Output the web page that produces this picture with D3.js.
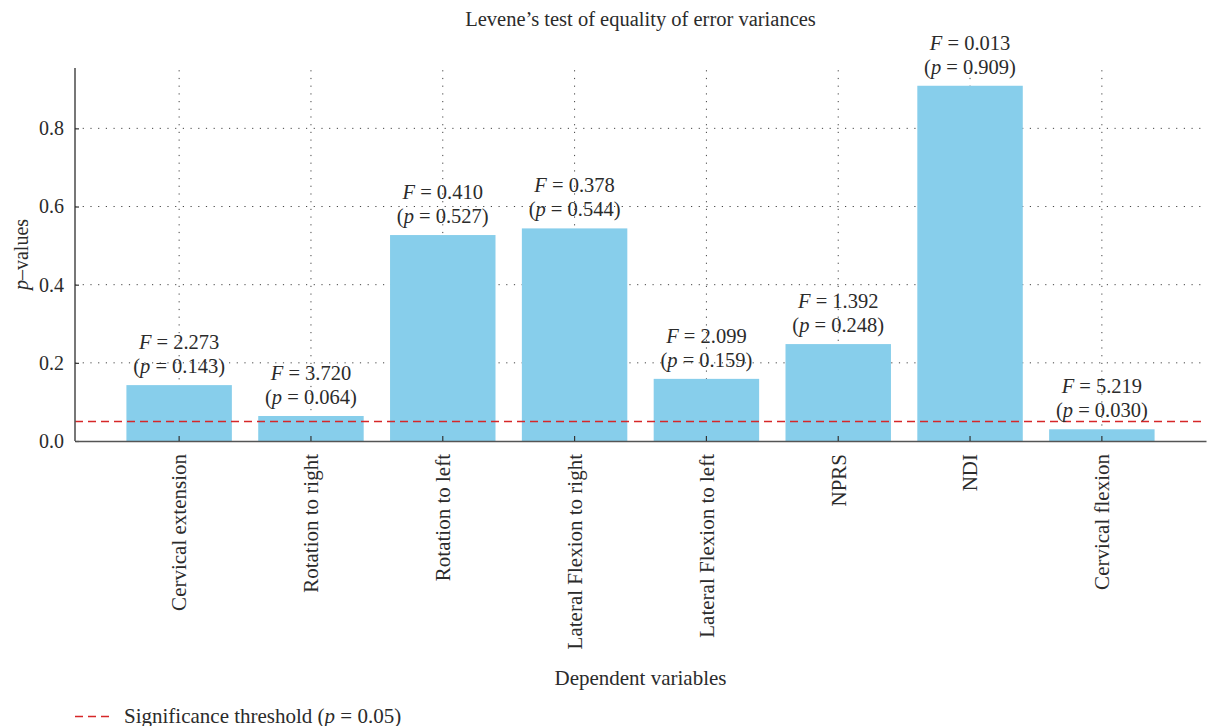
<!DOCTYPE html>
<html>
<head>
<meta charset="utf-8">
<script src="https://cdn.jsdelivr.net/npm/d3@7/dist/d3.min.js"></script>
<style>
  html, body { margin: 0; padding: 0; background: #fff; }
  svg { display: block; font-family: "Liberation Serif", "DejaVu Serif", serif; }
</style>
</head>
<body>
<svg id="chart" width="1208" height="726"></svg>
<script>
// Levene's test results per dependent variable
const categories = [
  "Cervical extension", "Rotation to right", "Rotation to left",
  "Lateral Flexion to right", "Lateral Flexion to left", "NPRS", "NDI",
  "Cervical flexion"
];
const fValues = [2.273, 3.720, 0.410, 0.378, 2.099, 1.392, 0.013, 5.219];
const pValues = [0.143, 0.064, 0.527, 0.544, 0.159, 0.248, 0.909, 0.030];
const yTicks = [0.0, 0.2, 0.4, 0.6, 0.8];
const threshold = 0.05;

const svg = d3.select("#chart");
const plotL = 75, plotR = 1206, plotT = 68, plotB = 441;
const ink = "#2b2b2b";
const red = "#d62728";

const x = d3.scaleBand()
  .domain(categories)
  .range([plotL, plotR])
  .paddingInner(0.2)
  .paddingOuter(0.39);

const y = d3.scaleLinear()
  .domain([0, d3.max(pValues) * 1.05])
  .range([plotB, plotT]);

const cx = d => x(d) + x.bandwidth() / 2;

// dotted grid
const grid = svg.append("g").attr("stroke", "#444").attr("stroke-width", 1)
  .attr("stroke-dasharray", "1.2,6.5");
grid.selectAll("line.h").data(yTicks.filter(d => d > 0)).join("line")
  .attr("class", "h")
  .attr("x1", plotL).attr("x2", plotR)
  .attr("y1", d => y(d)).attr("y2", d => y(d));
grid.selectAll("line.v").data(categories).join("line")
  .attr("class", "v")
  .attr("x1", cx).attr("x2", cx)
  .attr("y1", plotB).attr("y2", plotT);

// bars
svg.append("g").selectAll("rect").data(categories).join("rect")
  .attr("x", d => x(d))
  .attr("width", x.bandwidth())
  .attr("y", (d, i) => y(pValues[i]))
  .attr("height", (d, i) => plotB - y(pValues[i]))
  .attr("fill", "#87CEEB");

// significance threshold
svg.append("line")
  .attr("x1", plotL).attr("x2", plotR)
  .attr("y1", Math.round(y(threshold)) + 0.5).attr("y2", Math.round(y(threshold)) + 0.5)
  .attr("stroke", red).attr("stroke-width", 1.4)
  .attr("stroke-dasharray", "8,5");

// value labels
const labels = svg.append("g").attr("font-size", 20.5).attr("fill", ink)
  .attr("text-anchor", "middle");
categories.forEach((c, i) => {
  const ty = y(pValues[i]);
  const t1 = labels.append("text").attr("x", cx(c)).attr("y", ty - 36);
  t1.append("tspan").attr("font-style", "italic").text("F");
  t1.append("tspan").text(" = " + fValues[i].toFixed(3));
  const t2 = labels.append("text").attr("x", cx(c)).attr("y", ty - 12);
  t2.append("tspan").text("(");
  t2.append("tspan").attr("font-style", "italic").text("p");
  t2.append("tspan").text(" = " + pValues[i].toFixed(3) + ")");
});

// axes
const yAxis = svg.append("g").attr("transform", `translate(${plotL},0)`)
  .call(d3.axisLeft(y).tickValues(yTicks).tickFormat(d3.format(".1f"))
    .tickSizeInner(-4).tickSizeOuter(0).tickPadding(11));
const xAxis = svg.append("g").attr("transform", `translate(0,${plotB})`)
  .call(d3.axisBottom(x).tickSizeInner(-5).tickSizeOuter(0).tickPadding(14));

[yAxis, xAxis].forEach(a => {
  a.select(".domain").attr("stroke", "#555").attr("stroke-width", 1.6);
  a.selectAll(".tick line").attr("stroke", "#333").attr("stroke-width", 1.2);
  a.selectAll("text").attr("fill", ink)
    .attr("font-family", "Liberation Serif, serif");
});
yAxis.selectAll("text").attr("font-size", 20);
xAxis.selectAll("text").attr("font-size", 21);
yAxis.select(".domain").attr("d", `M0,${plotT}V${plotB}`);

xAxis.selectAll(".tick text")
  .attr("text-anchor", "end")
  .attr("dy", "0.35em")
  .attr("transform", "rotate(-90)")
  .attr("x", -13).attr("y", 0);

// titles
svg.append("text").attr("x", (plotL + plotR) / 2).attr("y", 26)
  .attr("text-anchor", "middle").attr("font-size", 20.5).attr("fill", ink)
  .text("Levene\u2019s test of equality of error variances");

svg.append("text").attr("x", (plotL + plotR) / 2).attr("y", 685)
  .attr("text-anchor", "middle").attr("font-size", 21).attr("fill", ink)
  .text("Dependent variables");

const yl = svg.append("text")
  .attr("transform", `translate(28,${(plotT + plotB) / 2}) rotate(-90)`)
  .attr("text-anchor", "middle").attr("font-size", 20).attr("fill", ink);
yl.append("tspan").attr("font-style", "italic").text("p");
yl.append("tspan").text("\u2013values");

// legend
const lg = svg.append("g").attr("transform", "translate(75,716.5)");
lg.append("line").attr("x1", 0).attr("x2", 36).attr("y1", 0).attr("y2", 0)
  .attr("stroke", red).attr("stroke-width", 1.4).attr("stroke-dasharray", "8,5");
const lt = lg.append("text").attr("x", 49).attr("y", 6)
  .attr("font-size", 21).attr("fill", ink);
lt.append("tspan").text("Significance threshold (");
lt.append("tspan").attr("font-style", "italic").text("p");
lt.append("tspan").text(" = 0.05)");
</script>
</body>
</html>
